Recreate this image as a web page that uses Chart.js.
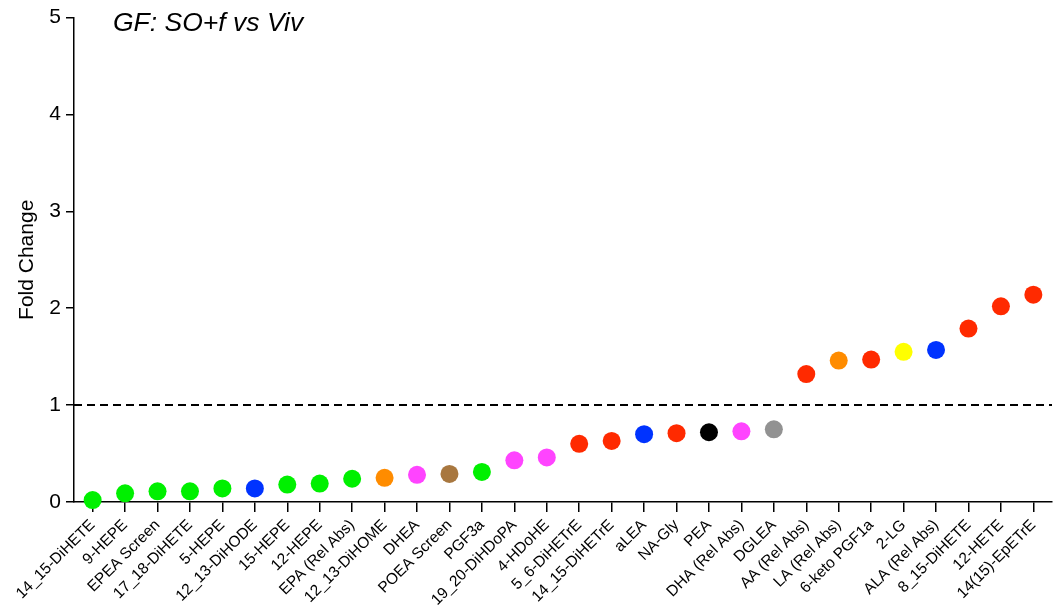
<!DOCTYPE html>
<html>
<head>
<meta charset="utf-8">
<script src="https://cdn.jsdelivr.net/npm/chart.js@4/dist/chart.umd.min.js"></script>
<style>
  html, body { margin: 0; padding: 0; background: #fff; }
  #wrap { width: 1061px; height: 605px; }
</style>
</head>
<body>
<div id="wrap"><canvas id="c" width="1061" height="605"></canvas></div>
<script>
// Lipid mediators ordered by fold change
const compounds = [
  "14_15-DiHETE", "9-HEPE", "EPEA Screen", "17_18-DiHETE", "5-HEPE",
  "12_13-DiHODE", "15-HEPE", "12-HEPE", "EPA (Rel Abs)", "12_13-DiHOME",
  "DHEA", "POEA Screen", "PGF3a", "19_20-DiHDoPA", "4-HDoHE",
  "5_6-DiHETrE", "14_15-DiHETrE", "aLEA", "NA-Gly", "PEA",
  "DHA (Rel Abs)", "DGLEA", "AA (Rel Abs)", "LA (Rel Abs)", "6-keto PGF1a",
  "2-LG", "ALA (Rel Abs)", "8_15-DiHETE", "12-HETE", "14(15)-EpETrE"
];
const foldChange = [
  0.02, 0.09, 0.11, 0.11, 0.14,
  0.14, 0.18, 0.19, 0.24, 0.25,
  0.28, 0.29, 0.31, 0.43, 0.46,
  0.60, 0.63, 0.70, 0.71, 0.72,
  0.73, 0.75, 1.32, 1.46, 1.47,
  1.55, 1.57, 1.79, 2.02, 2.14
];
// Lipid class of each compound
const lipidClass = [
  "omega3", "omega3", "omega3", "omega3", "omega3",
  "ala", "omega3", "omega3", "omega3", "la",
  "dha", "poea", "omega3", "dha", "dha",
  "aa", "aa", "ala", "aa", "pea",
  "dha", "dgla", "aa", "la", "aa",
  "lg", "ala", "aa", "aa", "aa"
];
const classColors = {
  omega3: "#00f000",
  ala: "#0033ff",
  la: "#ff8c00",
  dha: "#ff44ff",
  poea: "#a8773f",
  aa: "#ff2a00",
  pea: "#000000",
  dgla: "#929292",
  lg: "#ffff00"
};
const yTicks = [0, 1, 2, 3, 4, 5];
const referenceLevel = 1;
const titleText = "GF: SO+f vs Viv";

const FONT = "'Liberation Sans', Arial, sans-serif";

const overlay = {
  id: "overlay",
  afterDatasetsDraw(chart) {
    const { ctx, chartArea, scales } = chart;
    const y = scales.y.getPixelForValue(referenceLevel);
    ctx.save();
    ctx.strokeStyle = "#000";
    ctx.lineWidth = 2;
    ctx.setLineDash([8, 5]);
    ctx.beginPath();
    ctx.moveTo(chartArea.left, y);
    ctx.lineTo(chartArea.right, y);
    ctx.stroke();
    ctx.restore();
  },
  afterDraw(chart) {
    const { ctx, chartArea } = chart;
    ctx.save();
    ctx.fillStyle = "#000";
    ctx.font = "italic 26.5px " + FONT;
    ctx.textAlign = "left";
    ctx.textBaseline = "middle";
    ctx.fillText(titleText, chartArea.left + 39, 24);
    ctx.restore();
  }
};

new Chart(document.getElementById("c"), {
  type: "scatter",
  data: {
    datasets: [{
      data: foldChange.map((v, i) => ({ x: i, y: v })),
      pointRadius: 9,
      pointHoverRadius: 9,
      pointBorderWidth: 0,
      pointBackgroundColor: lipidClass.map(c => classColors[c]),
      pointBorderColor: lipidClass.map(c => classColors[c]),
      showLine: false,
      clip: false
    }]
  },
  options: {
    responsive: false,
    animation: false,
    events: [],
    layout: { padding: { top: 13, right: 3, left: 0, bottom: 0 } },
    plugins: { legend: { display: false }, tooltip: { enabled: false } },
    scales: {
      x: {
        type: "linear",
        min: -0.575,
        max: compounds.length - 1 + 0.575,
        border: { display: true, color: "#000", width: 1.5 },
        grid: { display: true, drawOnChartArea: false, drawTicks: true, tickLength: 10, color: "#000", lineWidth: 1.5 },
        afterBuildTicks(scale) { scale.ticks = compounds.map((_, i) => ({ value: i })); },
        ticks: {
          color: "#000",
          font: { family: FONT, size: 15.5 },
          minRotation: 45,
          maxRotation: 45,
          autoSkip: false,
          padding: 4,
          callback: (v) => compounds[v]
        },
        afterFit(scale) { scale.height = 103; }
      },
      y: {
        min: 0,
        max: 5,
        border: { display: true, color: "#000", width: 1.5 },
        grid: { display: true, drawOnChartArea: false, drawTicks: true, tickLength: 8, color: "#000", lineWidth: 1.5 },
        afterBuildTicks(scale) { scale.ticks = yTicks.map(v => ({ value: v })); },
        ticks: {
          color: "#000",
          font: { family: FONT, size: 21 },
          padding: 5
        },
        title: {
          display: true,
          text: "Fold Change",
          color: "#000",
          font: { family: FONT, size: 21 },
          padding: { top: 15, bottom: 0 }
        },
        afterFit(scale) { scale.width = 74; }
      }
    }
  },
  plugins: [overlay]
});
</script>
</body>
</html>
